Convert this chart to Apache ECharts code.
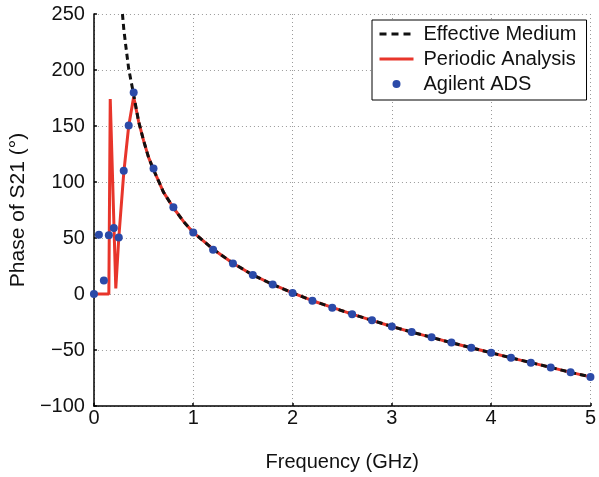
<!DOCTYPE html>
<html>
<head>
<meta charset="utf-8">
<script src="https://cdn.jsdelivr.net/npm/echarts@6/dist/echarts.min.js"></script>
<style>
html,body{margin:0;padding:0;background:#fff;}
#chart{width:599px;height:477px;}
</style>
</head>
<body>
<div id="chart"></div>
<script>
// Effective Medium (dashed black)
const emFreq  = [0.287, 0.3, 0.32, 0.35, 0.4, 0.45, 0.5, 0.55, 0.6, 0.7, 0.8, 0.9, 1.0, 1.2, 1.4, 1.6, 1.8, 2.0, 2.2, 2.4, 2.6, 2.8, 3.0, 3.2, 3.4, 3.6, 3.8, 4.0, 4.2, 4.4, 4.6, 4.8, 5.0];
const emPhase = [250, 237, 222, 201, 178, 154, 137, 122, 111, 91, 77, 65, 55, 40, 27.5, 17, 8.5, 1, -6, -12, -18, -23.5, -29, -34, -38.7, -43.5, -48, -52.5, -57, -61.3, -65.5, -70, -74];

// Periodic Analysis (red solid)
const paFreq  = [0, 0.15, 0.164, 0.22, 0.25, 0.3, 0.35, 0.4, 0.45, 0.5, 0.55, 0.6, 0.7, 0.8, 0.9, 1.0, 1.2, 1.4, 1.6, 1.8, 2.0, 2.2, 2.4, 2.6, 2.8, 3.0, 3.2, 3.4, 3.6, 3.8, 4.0, 4.2, 4.4, 4.6, 4.8, 5.0];
const paPhase = [0, 0, 174, 5, 50, 108, 150, 176, 154, 137, 122, 111, 91, 77, 65, 55, 40, 27.5, 17, 8.5, 1, -6, -12, -18, -23.5, -29, -34, -38.7, -43.5, -48, -52.5, -57, -61.3, -65.5, -70, -74];

// Agilent ADS (blue dots)
const adsFreq  = [0, 0.05, 0.1, 0.15, 0.2, 0.25, 0.3, 0.35, 0.4, 0.6, 0.8, 1.0, 1.2, 1.4, 1.6, 1.8, 2.0, 2.2, 2.4, 2.6, 2.8, 3.0, 3.2, 3.4, 3.6, 3.8, 4.0, 4.2, 4.4, 4.6, 4.8, 5.0];
const adsPhase = [0, 53, 12, 52.5, 59, 50.5, 110, 150.5, 180, 112, 77.4, 55, 39.5, 27.2, 16.9, 8.4, 1, -6, -12.2, -18, -23.4, -29, -34, -38.6, -43.4, -48, -52.5, -57, -61.3, -65.7, -69.8, -74];

// Axis ticks
const xTicks = {min: 0, max: 5, interval: 1};
const yTicks = {min: -100, max: 250, interval: 50};

const zip = (xs, ys) => xs.map((x, i) => [x, ys[i]]);
const FONT = '"Liberation Sans", Arial, Helvetica, sans-serif';

const chart = echarts.init(document.getElementById('chart'), null, {renderer: 'canvas'});
chart.setOption({
  animation: false,
  backgroundColor: '#fff',
  grid: {left: 90, right: 5.5, top: 14, bottom: 66, containLabel: false},
  legend: {
    orient: 'vertical',
    left: 372, top: 20,
    backgroundColor: '#fff',
    borderColor: '#000', borderWidth: 1, borderRadius: 0,
    padding: [4, 10, 6, 6],
    itemWidth: 34, itemHeight: 8, itemGap: 5,
    lineStyle: {width: 3},
    textStyle: {fontFamily: FONT, fontSize: 20, color: '#111', padding: [0, 0, 0, 5]},
    data: [
      {name: 'Effective Medium', itemStyle: {opacity: 0}, lineStyle: {width: 3, type: [7, 5], color: '#111'}},
      {name: 'Periodic Analysis', itemStyle: {opacity: 0}, lineStyle: {width: 3, color: '#e8352b'}},
      {name: 'Agilent ADS'}
    ]
  },
  xAxis: {
    type: 'value', min: xTicks.min, max: xTicks.max, interval: xTicks.interval,
    name: 'Frequency (GHz)', nameLocation: 'middle', nameGap: 46,
    nameTextStyle: {fontFamily: FONT, fontSize: 20, color: '#111'},
    axisLine: {show: true, onZero: false, lineStyle: {color: '#000', width: 1.5}},
    axisTick: {show: true, inside: true, length: 3, lineStyle: {color: '#000', width: 1.5}},
    axisLabel: {fontFamily: FONT, fontSize: 20, color: '#111', margin: 2},
    splitLine: {show: true, lineStyle: {color: '#9a9a9a', width: 1, type: [1, 3]}}
  },
  yAxis: {
    type: 'value', min: yTicks.min, max: yTicks.max, interval: yTicks.interval,
    name: 'Phase of S21 (°)', nameLocation: 'middle', nameGap: 56, nameRotate: 90,
    nameTextStyle: {fontFamily: FONT, fontSize: 21, color: '#111'},
    axisLine: {show: true, onZero: false, lineStyle: {color: '#000', width: 1.5}},
    axisTick: {show: true, inside: true, length: 3, lineStyle: {color: '#000', width: 1.5}},
    axisLabel: {fontFamily: FONT, fontSize: 20, color: '#111', margin: 9,
      formatter: v => (v < 0 ? '\u2212' + Math.abs(v) : String(v))},
    splitLine: {show: true, lineStyle: {color: '#9a9a9a', width: 1, type: [1, 3]}}
  },
  series: [
    {
      name: 'Periodic Analysis', type: 'line', data: zip(paFreq, paPhase),
      showSymbol: false, symbol: 'none', z: 2,
      lineStyle: {color: '#e8352b', width: 3},
      itemStyle: {color: '#e8352b'}
    },
    {
      name: 'Effective Medium', type: 'line', data: zip(emFreq, emPhase),
      showSymbol: false, symbol: 'none', z: 3, clip: true,
      lineStyle: {color: '#111', width: 3, type: [6, 4]},
      itemStyle: {color: '#111'}
    },
    {
      name: 'Agilent ADS', type: 'scatter', data: zip(adsFreq, adsPhase),
      symbol: 'circle', symbolSize: 8, z: 4,
      itemStyle: {color: '#2b4aa8', opacity: 1}
    }
  ]
});
</script>
</body>
</html>
